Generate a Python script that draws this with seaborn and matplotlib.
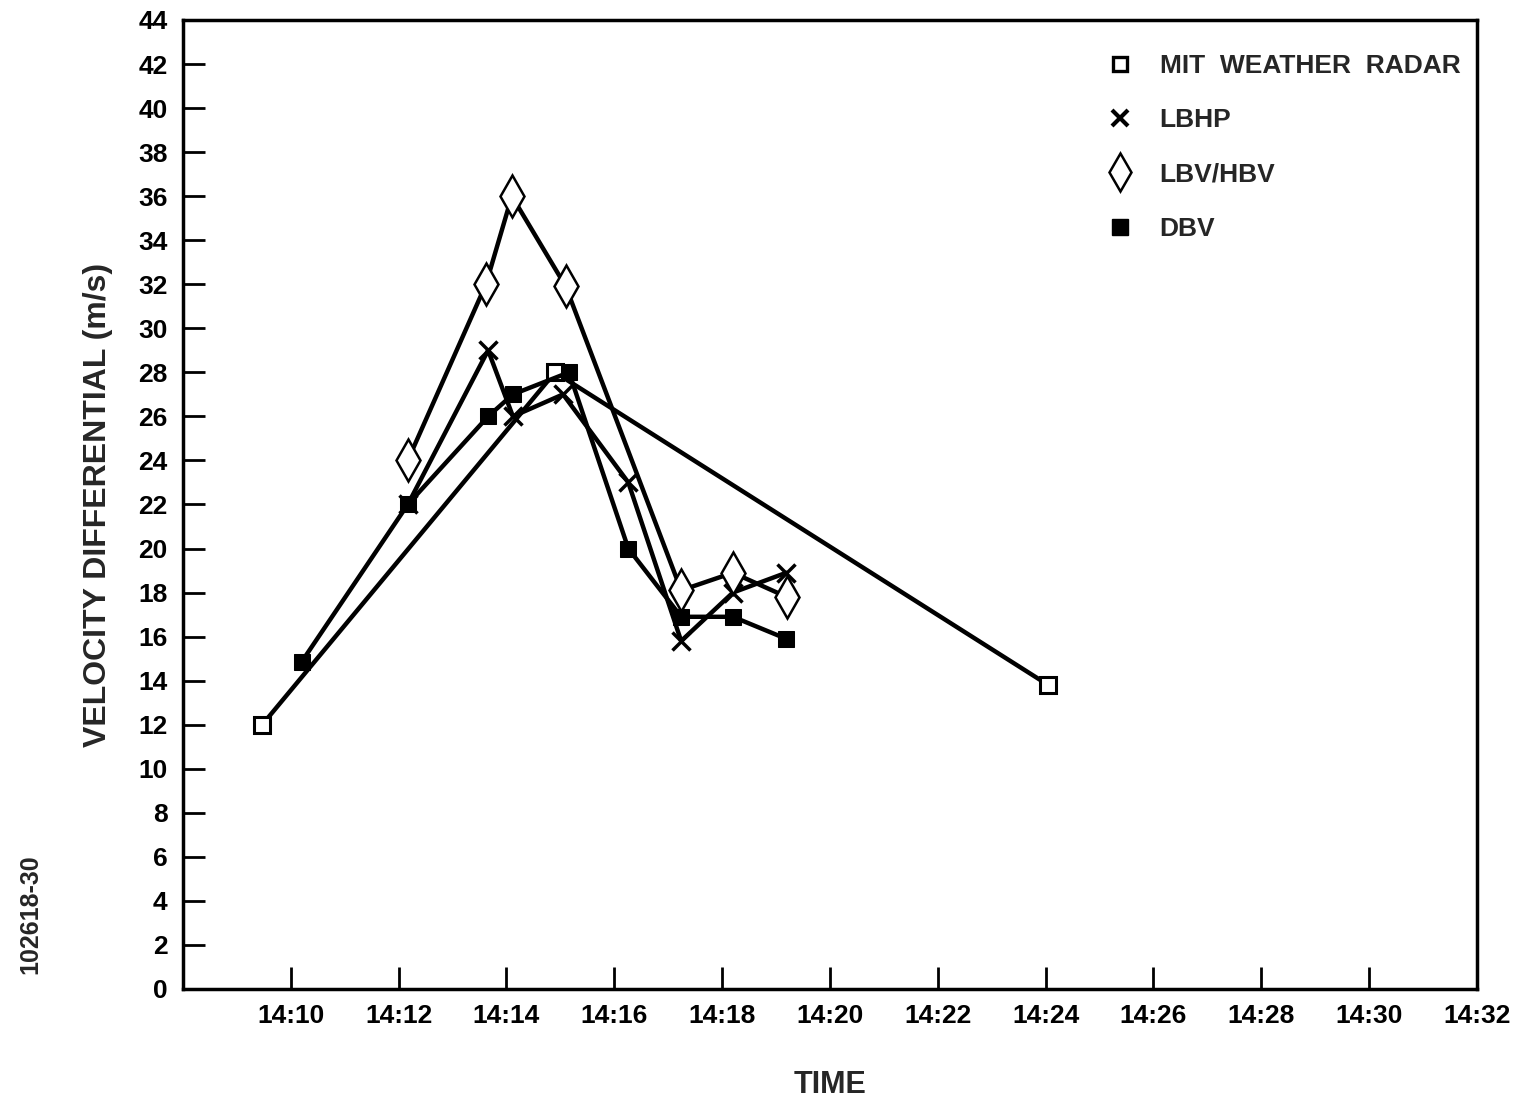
import numpy as np
import pandas as pd
import matplotlib
matplotlib.use("Agg")
import matplotlib.pyplot as plt
from matplotlib.lines import Line2D
import seaborn as sns

# minutes after 14:00, velocity differential (m/s)
mit_t = [9.47, 14.9, 24.05]
mit_v = [12, 28, 13.8]

lbhp_t = [12.17, 13.66, 14.12, 15.05, 16.26, 17.24, 18.2, 19.19]
lbhp_v = [22, 29, 26, 27, 23, 15.8, 18, 18.9]

lbv_t = [12.17, 13.62, 14.1, 15.1, 17.24, 18.2, 19.2]
lbv_v = [24, 32, 36, 31.9, 18.1, 18.9, 17.8]

dbv_t = [10.2, 12.17, 13.66, 14.12, 15.16, 16.26, 17.24, 18.2, 19.19]
dbv_v = [14.85, 22, 26, 27, 28, 20, 16.9, 16.9, 15.9]

names = ["MIT  WEATHER  RADAR", "LBHP", "LBV/HBV", "DBV"]
x_ticks = list(range(10, 33, 2))
y_ticks = list(range(0, 45, 2))

sns.set_style("white")
plt.rcParams['font.family'] = ['Liberation Sans', 'DejaVu Sans']

fig = plt.figure(figsize=(15.17, 10.98), dpi=100)
ax = fig.add_axes([0.1206, 0.0993, 0.853, 0.8825])

series = [
    (mit_t, mit_v, dict(marker="s", markersize=12, markerfacecolor="white",
                        markeredgecolor="black", markeredgewidth=2.2)),
    (lbhp_t, lbhp_v, dict(marker="x", markersize=13, markeredgecolor="black",
                          markeredgewidth=2.5)),
    (lbv_t, lbv_v, dict(marker="d", markersize=21, markerfacecolor="white",
                        markeredgecolor="black", markeredgewidth=1.8)),
    (dbv_t, dbv_v, dict(marker="s", markersize=12, markerfacecolor="black",
                        markeredgecolor="black")),
]

for i, (t, v, mk) in enumerate(series):
    df = pd.DataFrame({"t": t, "v": v})
    sns.lineplot(data=df, x="t", y="v", sort=False, color="black",
                 linewidth=3.2, ax=ax, zorder=3 + i, **mk)

ax.set_xlim(8, 32)
ax.set_ylim(0, 44)
ax.set_xticks(x_ticks)
ax.set_xticklabels([f"14:{m:02d}" for m in x_ticks])
ax.set_yticks(y_ticks)
ax.tick_params(direction="in", length=16, width=2, colors="black",
               labelsize=19, pad=11, top=False, right=False,
               bottom=True, left=True)
for lab in ax.get_xticklabels() + ax.get_yticklabels():
    lab.set_fontweight("bold")
for s in ax.spines.values():
    s.set_linewidth(2.5)
    s.set_color("black")

ax.set_xlabel("TIME", fontsize=22, fontweight="bold", labelpad=30)
ax.set_ylabel("VELOCITY DIFFERENTIAL (m/s)", fontsize=23, fontweight="bold",
              labelpad=18)

handles = [
    Line2D([], [], linestyle="none", marker="s", markersize=10,
           markerfacecolor="white", markeredgecolor="black", markeredgewidth=2.4),
    Line2D([], [], linestyle="none", marker="x", markersize=12,
           markeredgecolor="black", markeredgewidth=3),
    Line2D([], [], linestyle="none", marker="d", markersize=19,
           markerfacecolor="white", markeredgecolor="black", markeredgewidth=1.8),
    Line2D([], [], linestyle="none", marker="s", markersize=12,
           markerfacecolor="black", markeredgecolor="black"),
]
leg = ax.legend(handles, names, loc="upper left", frameon=False,
                fontsize=19, labelspacing=1.15, handlelength=1.0,
                handletextpad=1.0, borderpad=0, borderaxespad=0,
                bbox_to_anchor=(0.714, 0.965))
for txt in leg.get_texts():
    txt.set_fontweight("bold")

fig.text(0.02, 0.167, "102618-30", rotation=90, fontsize=18, fontweight="bold",
         ha="center", va="center")

fig.savefig("out.png", dpi=100)
